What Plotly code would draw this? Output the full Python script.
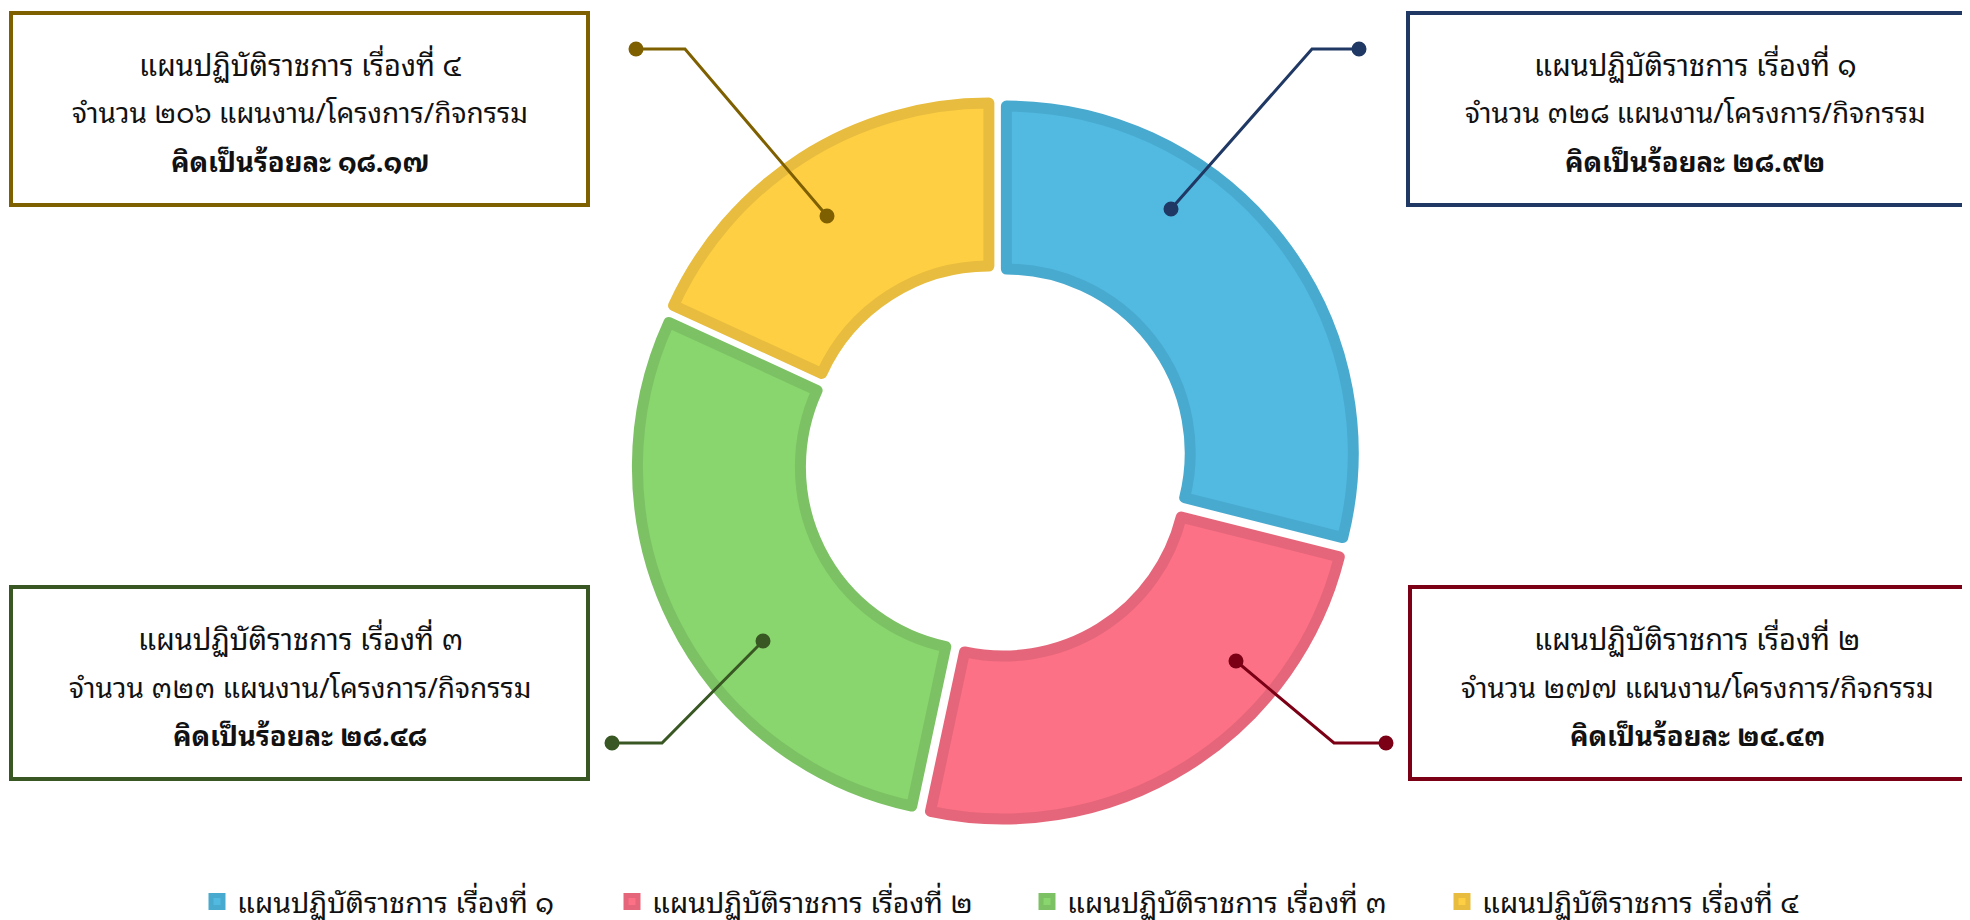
import plotly.graph_objects as go

W, H = 1970, 920
PAGE_OFFSET = 8  # default body margin of the html page

# ---- data ----
plan_numbers = [1, 2, 3, 4]
counts = [328, 277, 323, 206]
label_prefix = "แผนปฏิบัติราชการ เรื่องที่ "
count_prefix = "จำนวน "
count_suffix = " แผนงาน/โครงการ/กิจกรรม"
pct_prefix = "คิดเป็นร้อยละ "

# ---- styles ----
fill_colors = ["#52BAE1", "#FC7185", "#89D56E", "#FECF43"]
edge_colors = ["#49AACF", "#E5667A", "#7CC164", "#E8BC3E"]
accent_colors = ["#203864", "#7B0015", "#385723", "#7F6000"]
FONT = "Noto Sans Thai Looped, Noto Sans Thai, Noto Sans, Tahoma, sans-serif"

# callout layout in page pixels: box (x0, y0, x1, y1), leader path points
callouts = [
    dict(box=(1408, 13, 1995, 205), path=[(1171, 209), (1312, 49), (1359, 49)]),
    dict(box=(1410, 587, 1995, 779), path=[(1236, 661), (1334, 743), (1386, 743)]),
    dict(box=(11, 587, 588, 779), path=[(763, 641), (662, 743), (612, 743)]),
    dict(box=(11, 13, 588, 205), path=[(827, 216), (685, 49), (636, 49)]),
]
text_centers_x = [1695, 1697, 300, 300]
line_offsets = [50, 98, 147]
line_sizes = [29, 28, 27.5]

THAI = str.maketrans("0123456789", "๐๑๒๓๔๕๖๗๘๙")


def thai(s):
    return str(s).translate(THAI)


def px(x):
    return (x - PAGE_OFFSET) / W


def py(y):
    return 1 - (y - PAGE_OFFSET) / H


total = sum(counts)
labels = [label_prefix + thai(n) for n in plan_numbers]

CX, CY, SIZE = 996, 461, 720
fig = go.Figure()
fig.add_trace(go.Pie(
    labels=labels,
    values=counts,
    sort=False,
    direction="clockwise",
    hole=0.53,
    pull=[0.038] * len(counts),
    textinfo="none",
    marker=dict(colors=fill_colors, line=dict(color=edge_colors, width=11)),
    domain=dict(x=[px(CX - SIZE / 2 - 40), px(CX + SIZE / 2 + 40)],
                y=[py(CY + SIZE / 2), py(CY - SIZE / 2)]),
))

annotations = []
shapes = []
for n, c, col, co, tx in zip(plan_numbers, counts, accent_colors, callouts, text_centers_x):
    pct = f"{c / total * 100:.2f}"
    lines = [
        f"{label_prefix}{thai(n)}",
        f"{count_prefix}{thai(c)}{count_suffix}",
        f"<b>{pct_prefix}{thai(pct)}</b>",
    ]
    x0, y0, x1, y1 = co["box"]
    shapes.append(dict(type="rect", xref="paper", yref="paper",
                       x0=px(x0), x1=px(x1), y0=py(y1), y1=py(y0),
                       line=dict(color=col, width=4), fillcolor="rgba(0,0,0,0)"))
    for t, fs, off in zip(lines, line_sizes, line_offsets):
        annotations.append(dict(
            x=px(tx), y=py(y0 + off), xref="paper", yref="paper",
            xanchor="center", yanchor="middle", showarrow=False,
            text=t, font=dict(family=FONT, size=fs, color="#111111"),
        ))
    pts = co["path"]
    d = "M " + " L ".join(f"{px(x)},{py(y)}" for x, y in pts)
    shapes.append(dict(type="path", path=d, xref="paper", yref="paper",
                       line=dict(color=col, width=3)))
    r = 7.5
    for (x, y) in (pts[0], pts[-1]):
        shapes.append(dict(type="circle", xref="paper", yref="paper",
                           x0=px(x - r), x1=px(x + r), y0=py(y + r), y1=py(y - r),
                           fillcolor=col, line=dict(color=col, width=0)))

fig.update_layout(
    width=W, height=H,
    margin=dict(l=0, r=0, t=0, b=0, autoexpand=False),
    paper_bgcolor="white", plot_bgcolor="white",
    font=dict(family=FONT, color="#111111"),
    annotations=annotations,
    shapes=shapes,
    showlegend=True,
    legend=dict(orientation="h", x=px(197), y=py(902), xanchor="left", yanchor="middle",
                entrywidth=370, entrywidthmode="pixels",
                font=dict(family=FONT, size=28.5, color="#111111"),
                traceorder="normal"),
)

fig.write_html("out.html")
